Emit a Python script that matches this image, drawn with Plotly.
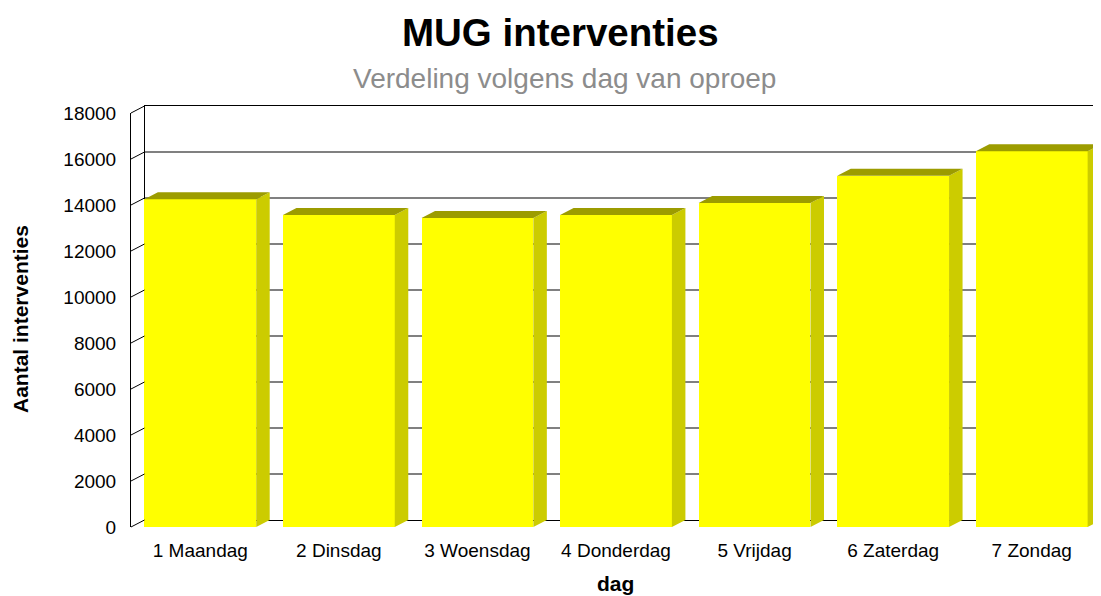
import plotly.graph_objects as go

# Data
dagen = ['1 Maandag', '2 Dinsdag', '3 Woensdag', '4 Donderdag', '5 Vrijdag', '6 Zaterdag', '7 Zondag']
aantal = [14250, 13560, 13430, 13560, 14090, 15270, 16340]
y_ticks = list(range(0, 18001, 2000))
y_labels = [str(v) for v in y_ticks]

# page has an 8px body margin, so the figure is drawn 8px smaller
OFF = 8
W, H = 1101 - OFF, 596 - OFF
ML, MR, MT, MB = 131 - OFF, 0, 106 - OFF, 69
plot_w = W - ML - MR
plot_h = H - MT - MB
depth_px_x, depth_px_y = 13.5, 7
front_h = plot_h - depth_px_y
ymax = 18000
dx = depth_px_x / (plot_w / len(dagen))
dy = depth_px_y / (front_h / ymax)
bw = 0.807


def px_x(p):
    return (p - OFF - ML) / plot_w


def px_y(p):
    return (H - MB - (p - OFF)) / plot_h


fig = go.Figure()

# back wall (gridlines) on subplot x/y, kept empty
fig.add_trace(go.Scatter(x=[0], y=[0], mode='markers', marker=dict(opacity=0),
                         hoverinfo='skip', showlegend=False, xaxis='x', yaxis='y'))

# side faces
sx, sy = [], []
for i, v in enumerate(aantal):
    r = i + bw / 2
    sx += [r, r + dx, r + dx, r, r, None]
    sy += [0, dy, v + dy, v, 0, None]
fig.add_trace(go.Scatter(x=sx, y=sy, fill='toself', mode='none', fillcolor='#CCCC00',
                         hoverinfo='skip', showlegend=False, xaxis='x2', yaxis='y2'))

# top faces
tx, ty = [], []
for i, v in enumerate(aantal):
    l, r = i - bw / 2, i + bw / 2
    tx += [l, l + dx, r + dx, r, l, None]
    ty += [v, v + dy, v + dy, v, v, None]
fig.add_trace(go.Scatter(x=tx, y=ty, fill='toself', mode='none', fillcolor='#9C9C00',
                         hoverinfo='skip', showlegend=False, xaxis='x2', yaxis='y2'))

# front faces
fig.add_trace(go.Bar(x=list(range(len(dagen))), y=aantal, width=bw,
                     marker=dict(color='#FFFF00', line=dict(width=0)),
                     showlegend=False, xaxis='x2', yaxis='y2'))

# left wall diagonals at each tick
shapes = []
for v in y_ticks:
    y0 = v / ymax * front_h / plot_h
    shapes.append(dict(type='line', xref='paper', yref='paper',
                       x0=0, x1=depth_px_x / plot_w,
                       y0=y0, y1=y0 + depth_px_y / plot_h,
                       line=dict(color='black', width=1)))

font = 'Liberation Sans, Arial, sans-serif'
fig.update_layout(
    width=W, height=H,
    margin=dict(l=ML, r=MR, t=MT, b=MB),
    paper_bgcolor='white', plot_bgcolor='rgba(0,0,0,0)',
    font=dict(family=font, size=19, color='black'),
    bargap=0,
    shapes=shapes,
    xaxis=dict(domain=[depth_px_x / plot_w, 1], anchor='y', range=[0, 1],
               showgrid=False, zeroline=False, showticklabels=False, automargin=False,
               showline=True, mirror=True, linecolor='black', linewidth=1),
    yaxis=dict(domain=[depth_px_y / plot_h, 1], anchor='x', range=[0, ymax],
               tickvals=y_ticks, showticklabels=False, showgrid=True, automargin=False,
               gridcolor='#808080', gridwidth=1.5,
               zeroline=True, zerolinecolor='black', zerolinewidth=2,
               showline=True, linecolor='black', linewidth=1),
    xaxis2=dict(domain=[0, 1], anchor='y2', range=[-0.5, 6.5],
                tickvals=list(range(len(dagen))), ticktext=dagen, automargin=False,
                showgrid=False, zeroline=False, showline=False,
                ticks='', ticklabelstandoff=10, tickfont=dict(size=19)),
    yaxis2=dict(domain=[0, front_h / plot_h], anchor='x2', range=[0, ymax],
                tickvals=y_ticks, ticktext=y_labels, showgrid=False, zeroline=False,
                showline=True, linecolor='black', linewidth=1, automargin=False,
                ticks='', ticklabelstandoff=10, tickfont=dict(size=19)),
    annotations=[
        dict(text='<b>MUG interventies</b>', xref='paper', yref='paper',
             x=px_x(560), y=px_y(32), xanchor='center', yanchor='middle',
             showarrow=False, font=dict(size=38.5, color='black')),
        dict(text='Verdeling volgens dag van oproep', xref='paper', yref='paper',
             x=px_x(564), y=px_y(78), xanchor='center', yanchor='middle',
             showarrow=False, font=dict(size=28, color='#8C8C8C')),
        dict(text='<b>Aantal interventies</b>', xref='paper', yref='paper',
             x=px_x(20), y=px_y(319), xanchor='center', yanchor='middle',
             textangle=-90, showarrow=False, font=dict(size=21)),
        dict(text='<b>dag</b>', xref='paper', yref='paper',
             x=px_x(615), y=px_y(583), xanchor='center', yanchor='middle',
             showarrow=False, font=dict(size=21)),
    ],
)

fig.write_html("out.html")
